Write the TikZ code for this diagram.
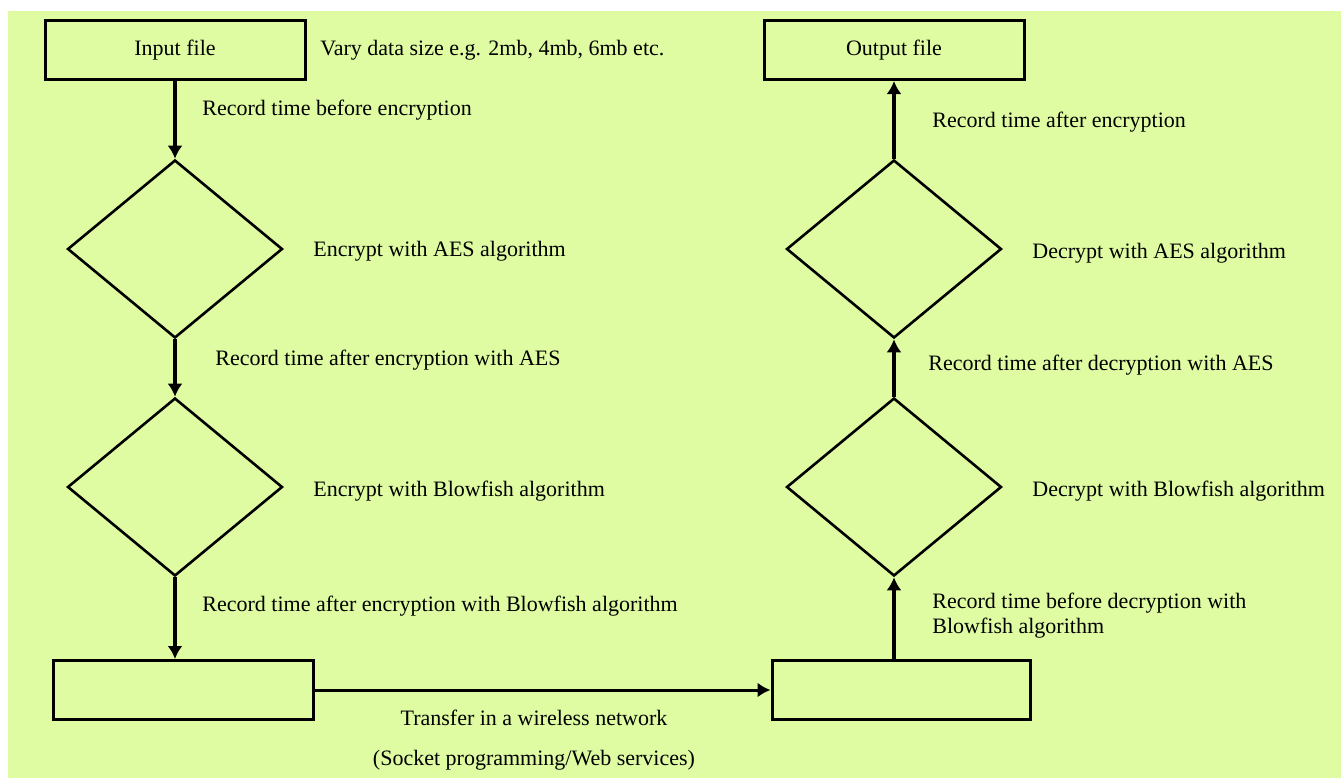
\documentclass[tikz,border=0pt]{standalone}
\usepackage{fontspec}
\setmainfont{Liberation Serif}
\usetikzlibrary{shapes.geometric,arrows.meta}
\definecolor{bggreen}{RGB}{223,252,162}

\begin{document}
\begin{tikzpicture}[x=0.5pt,y=-0.5pt,>={Latex[length=6.5pt,width=7.5pt]},
    every node/.style={font=\fontsize{11}{12.5}\selectfont},
    box/.style={draw,rectangle,line width=1.5pt,minimum width=130pt,minimum height=29.5pt,inner sep=0pt},
    dia/.style={draw,diamond,line width=1.3pt,minimum width=107.5pt,minimum height=89pt,inner sep=0pt},
    lbl/.style={anchor=west,inner sep=0pt,align=left}]
    \fill [bggreen] (8,11) rectangle (1341,778);
    \useasboundingbox (0,0) rectangle (1341,778);
    \node [box] (in) at (175,50) {Input file};
    \node [dia,below of=in,node distance=99.5pt] (aes) {};
    \node [dia,below of=aes,node distance=119pt] (bf) {};
    \node [box,below of=bf,node distance=101.5pt,xshift=4pt] (send) {};
    \node [box,right of=in,node distance=359.5pt] (out) {Output file};
    \node [dia,below of=out,node distance=99.5pt] (daes) {};
    \node [dia,below of=daes,node distance=119pt] (dbf) {};
    \node [box,below of=dbf,node distance=101.5pt,xshift=3.5pt,minimum width=129pt] (recv) {};
    \draw [->,line width=1.6pt] (in) -- (aes);
    \draw [->,line width=1.6pt] (aes) -- (bf);
    \draw [->,line width=1.6pt] (bf.south) -- (bf.south |- send.north);
    \draw [->,line width=1.5pt] (send) -- (recv);
    \draw [->,line width=1.6pt] (dbf.south |- recv.north) -- (dbf.south);
    \draw [->,line width=1.6pt] (dbf) -- (daes);
    \draw [->,line width=1.6pt] (daes) -- (out);
    % left column texts
    \node [lbl] (size) at (320,50) {Vary data size e.g. 2mb, 4mb, 6mb etc.};
    \node [lbl] (t0) at (202,110) {Record time before encryption};
    \node [lbl] (eaes) at (313,251) {Encrypt with AES algorithm};
    \node [lbl] (t1) at (215,360) {Record time after encryption with AES};
    \node [lbl] (ebf) at (313,491) {Encrypt with Blowfish algorithm};
    \node [lbl] (t2) at (202,606) {Record time after encryption with Blowfish algorithm};
    % transfer
    \node (net) at (534,718) {Transfer in a wireless network};
    \node (sock) at (534,760) {(Socket programming/Web services)};
    % right column texts
    \node [lbl] (t3) at (932,616) {Record time before decryption with\\Blowfish algorithm};
    \node [lbl] (dbftxt) at (1032,491) {Decrypt with Blowfish algorithm};
    \node [lbl] (t4) at (928,365) {Record time after decryption with AES};
    \node [lbl] (daestxt) at (1032,253) {Decrypt with AES algorithm};
    \node [lbl] (t5) at (932,122) {Record time after encryption};
\end{tikzpicture}
\end{document}
